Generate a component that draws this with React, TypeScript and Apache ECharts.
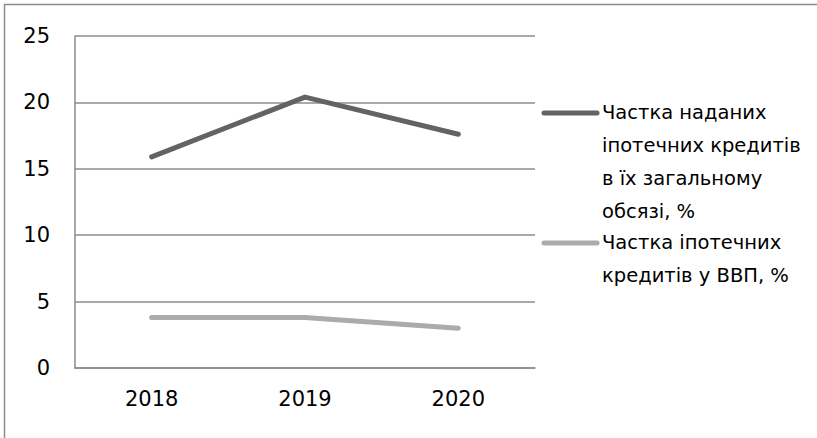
import React, { useEffect, useRef } from "react";
import * as echarts from "echarts";

const years = ["2018", "2019", "2020"];
const seriesNames = [
  "Частка наданих іпотечних кредитів в їх загальному обсязі, %",
  "Частка іпотечних кредитів у ВВП, %",
];
// legend captions, wrapped as they appear beside the plot
const legendLines = [
  ["Частка наданих", "іпотечних кредитів", "в їх загальному", "обсязі, %"],
  ["Частка іпотечних", "кредитів у ВВП, %"],
];
const mortgageShare = [15.9, 20.4, 17.6];
const mortgageToGdp = [3.8, 3.8, 3.0];
const yTicks = [0, 5, 10, 15, 20, 25];
const colors = ["#636363", "#ababab"];

const FONT = "DejaVu Sans";

export default function App() {
  const ref = useRef<HTMLDivElement>(null);

  useEffect(() => {
    if (!ref.current) return;
    const chart = echarts.init(ref.current, undefined, { renderer: "svg" });

    const lineH = 32.7;
    const legendTops = [113, 243];
    const legendGraphics: any[] = [];
    legendLines.forEach((lines, i) => {
      const cy = legendTops[i];
      legendGraphics.push({
        type: "line",
        shape: { x1: 544, y1: cy, x2: 597, y2: cy },
        style: { stroke: colors[i], lineWidth: 5, lineCap: "round" },
      });
      legendGraphics.push({
        type: "text",
        x: 602,
        y: cy - lineH / 2,
        style: {
          text: lines.join("\n"),
          font: `19.5px "${FONT}"`,
          fill: "#000",
          lineHeight: lineH,
          verticalAlign: "top",
          align: "left",
        },
      });
    });

    chart.setOption({
      animation: false,
      backgroundColor: "#fff",
      grid: { left: 75, right: 282, top: 36, bottom: 70 },
      xAxis: {
        type: "category",
        data: years,
        boundaryGap: true,
        axisLine: { show: true, lineStyle: { color: "#8c8c8c", width: 1.5 } },
        axisTick: { show: false },
        axisLabel: {
          color: "#000",
          fontFamily: FONT,
          fontSize: 21,
          margin: 20,
        },
        splitLine: { show: false },
      },
      yAxis: {
        type: "value",
        min: yTicks[0],
        max: yTicks[yTicks.length - 1],
        interval: 5,
        axisLine: { show: true, lineStyle: { color: "#8c8c8c", width: 1.5 } },
        axisTick: { show: false },
        axisLabel: {
          color: "#000",
          fontFamily: FONT,
          fontSize: 21,
          margin: 25,
        },
        splitLine: { show: true, lineStyle: { color: "#8c8c8c", width: 1.5 } },
      },
      series: [
        {
          name: seriesNames[0],
          type: "line",
          data: mortgageShare,
          symbol: "none",
          lineStyle: { color: colors[0], width: 5, cap: "round", join: "round" },
          itemStyle: { color: colors[0] },
        },
        {
          name: seriesNames[1],
          type: "line",
          data: mortgageToGdp,
          symbol: "none",
          lineStyle: { color: colors[1], width: 5, cap: "round", join: "round" },
          itemStyle: { color: colors[1] },
        },
      ],
      graphic: [
        {
          type: "rect",
          shape: { x: 4.5, y: 4.5, width: 830, height: 450 },
          style: { fill: "none", stroke: "#8c8c8c", lineWidth: 1.5 },
          silent: true,
        },
        ...legendGraphics,
      ],
    });

    return () => chart.dispose();
  }, []);

  return (
    <div
      ref={ref}
      style={{ position: "fixed", left: 0, top: 0, width: 817, height: 438 }}
    />
  );
}
